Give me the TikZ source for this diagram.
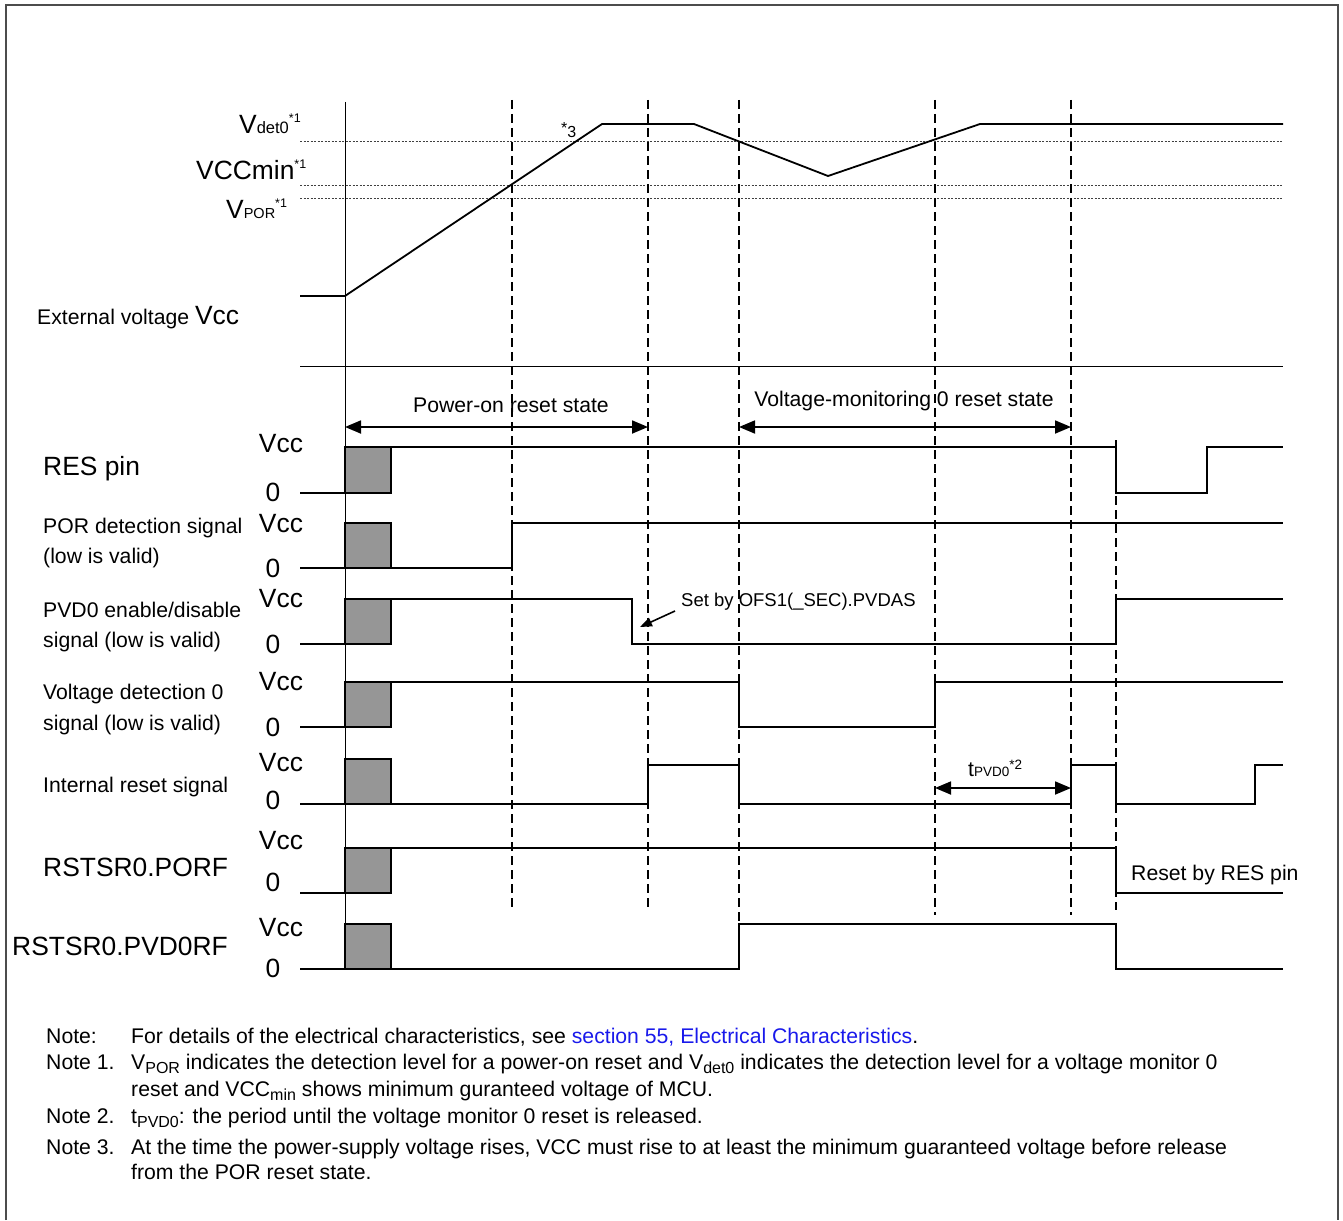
\documentclass[tikz,border=0pt]{standalone}
\usepackage{fontspec}
\setmainfont{Liberation Sans}
\usetikzlibrary{arrows.meta}
\definecolor{boxgray}{RGB}{150,150,150}
\definecolor{linkblue}{RGB}{25,25,235}
\newcommand{\lowsub}[1]{\raisebox{-4pt}{\fontsize{16}{17}\selectfont #1}}
\begin{document}
\begin{tikzpicture}[x=1pt,y=-1pt,
  sig/.style={line width=1.8pt, line join=miter},
  vdash/.style={line width=1.8pt, dash pattern=on 9pt off 5pt},
  dotl/.style={line width=0.9pt, dash pattern=on 2pt off 1.5pt, black!75},
  gbox/.style={fill=boxgray, draw=black, line width=1.6pt},
  lab/.style={inner sep=0pt, font=\fontsize{21.2}{26}\selectfont},
  big/.style={inner sep=0pt, font=\fontsize{26.4}{30}\selectfont},
  dbl/.style={line width=1.8pt, {Triangle[length=16pt,width=13pt]}-{Triangle[length=16pt,width=13pt]}},
]
\useasboundingbox (0,0) rectangle (1343,1220);
% frame
\draw[line width=1.2pt, black!70] (6,1220) -- (6,5) -- (1338,5) -- (1338,1220);

% dotted level lines
\draw[dotl] (300,141) -- (1283,141);
\draw[dotl] (300,185) -- (1283,185);
\draw[dotl] (300,198) -- (1283,198);

% time reference lines
\draw[line width=1pt] (345,102) -- (345,970);
\draw[vdash] (512,100) -- (512,910);
\draw[vdash] (648,100) -- (648,910);
\draw[vdash] (739,100) -- (739,925);
\draw[vdash] (935,100) -- (935,915);
\draw[vdash] (1071,100) -- (1071,915);
\draw[vdash] (1116,440) -- (1116,910);

% separator
\draw[line width=1pt] (300,366) -- (1283,366);

% external voltage waveform
\draw[sig] (300,296) -- (345,296) -- (602,124) -- (694,124) -- (828,176) -- (980,124) -- (1283,124);

% level labels
\node[anchor=base west, inner sep=0pt] (ldet) at (239,133)
  {{\fontsize{26.4}{30}\selectfont V}{\fontsize{16.5}{18}\selectfont det0}\raisebox{10pt}{\fontsize{12.5}{14}\selectfont *1}};
\node[anchor=base west, inner sep=0pt] (lmin) at (196,179)
  {{\fontsize{26.4}{30}\selectfont VCCmin}\raisebox{11pt}{\fontsize{12.5}{14}\selectfont *1}};
\node[anchor=base west, inner sep=0pt] (lpor) at (226,218)
  {{\fontsize{26.4}{30}\selectfont V}{\fontsize{14.5}{16}\selectfont POR}\raisebox{11pt}{\fontsize{12.5}{14}\selectfont *1}};
\node[anchor=base west, inner sep=0pt] (n3) at (561,138)
  {\fontsize{16}{18}\selectfont\raisebox{4pt}{*}3};
\node[lab, anchor=base west] (lext) at (37,324)
  {External voltage {\fontsize{26.4}{30}\selectfont Vcc}};

% state arrows
\coordinate (pa) at (345,427);
\coordinate (pb) at (648,427);
\coordinate (va) at (739,427);
\coordinate (vb) at (1071,427);
\draw[dbl] (pa) -- (pb);
\draw[dbl] (va) -- (vb);
\node[lab, anchor=base] (pors) at (511,412) {Power-on reset state};
\node[lab, anchor=base] (vms) at (904,406) {Voltage-monitoring 0 reset state};

% Row 1: RES pin
\draw[sig] (300,493) -- (345,493);
\filldraw[gbox] (345,447) rectangle (391,493);
\draw[sig] (391,447) -- (1116,447) -- (1116,493) -- (1207,493) -- (1207,447) -- (1283,447);
% Row 2: POR detection
\draw[sig] (300,568) -- (345,568);
\filldraw[gbox] (345,523) rectangle (391,568);
\draw[sig] (391,568) -- (512,568) -- (512,523) -- (1283,523);
% Row 3: PVD0 enable
\draw[sig] (300,644) -- (345,644);
\filldraw[gbox] (345,599) rectangle (391,644);
\draw[sig] (391,599) -- (632,599) -- (632,644) -- (1116,644) -- (1116,599) -- (1283,599);
% Row 4: voltage detection 0
\draw[sig] (300,727) -- (345,727);
\filldraw[gbox] (345,682) rectangle (391,727);
\draw[sig] (391,682) -- (739,682) -- (739,727) -- (935,727) -- (935,682) -- (1283,682);
% Row 5: internal reset
\draw[sig] (300,804) -- (345,804);
\filldraw[gbox] (345,759) rectangle (391,804);
\draw[sig] (391,804) -- (648,804) -- (648,765) -- (739,765) -- (739,804) -- (1071,804) -- (1071,765) -- (1116,765) -- (1116,804) -- (1255,804) -- (1255,765) -- (1283,765);
% Row 6: RSTSR0.PORF
\draw[sig] (300,893) -- (345,893);
\filldraw[gbox] (345,848) rectangle (391,893);
\draw[sig] (391,848) -- (1116,848) -- (1116,893) -- (1283,893);
% Row 7: RSTSR0.PVD0RF
\draw[sig] (300,969) -- (345,969);
\filldraw[gbox] (345,924) rectangle (391,969);
\draw[sig] (391,969) -- (739,969) -- (739,924) -- (1116,924) -- (1116,969) -- (1283,969);

% Vcc / 0 labels
\foreach \nm/\yv/\yz in {a/452.5/501.5, b/532.5/577.5, c/607.5/653.5, d/690.5/736.5, e/771.5/809.5, f/849.5/891.5, g/936.5/977.5}{
  \node[big, anchor=base] (vcc\nm) at (281,\yv) {Vcc};
  \node[big, anchor=base] (zero\nm) at (273,\yz) {0};
}

% row labels
\node[big, anchor=base west] (rres) at (43,475) {RES pin};
\node[lab, anchor=base west] (rpor1) at (43,533.5) {POR detection signal};
\node[lab, anchor=base west] (rpor2) at (43,563.5) {(low is valid)};
\node[lab, anchor=base west] (rpvd1) at (43,617.5) {PVD0 enable/disable};
\node[lab, anchor=base west] (rpvd2) at (43,647.5) {signal (low is valid)};
\node[lab, anchor=base west] (rvd1) at (43,699.5) {Voltage detection 0};
\node[lab, anchor=base west] (rvd2) at (43,730.5) {signal (low is valid)};
\node[lab, anchor=base west] (rint) at (43,792.5) {Internal reset signal};
\node[big, anchor=base west] (rporf) at (43,876.5) {RSTSR0.PORF};
\node[big, anchor=base west] (rpvdf) at (12,955.5) {RSTSR0.PVD0RF};

% annotations
\node[anchor=base west, inner sep=0pt, font=\fontsize{18.5}{22}\selectfont] (setby) at (681,606.5) {Set by OFS1(\_SEC).PVDAS};
\coordinate (sa) at (675,611);
\coordinate (sb) at (640,627);
\draw[line width=1.6pt, -{Triangle[length=12pt,width=9pt]}] (sa) -- (sb);

\coordinate (ta) at (935,788);
\coordinate (tb) at (1071,788);
\draw[dbl] (ta) -- (tb);
\node[anchor=base west, inner sep=0pt] (tpvd) at (968,776)
  {{\fontsize{21.2}{24}\selectfont t}{\fontsize{13.5}{15}\selectfont PVD0}\raisebox{7pt}{\fontsize{13.5}{15}\selectfont *2}};

\node[lab, anchor=base west] (rstres) at (1131,880) {Reset by RES pin};

% notes
\node[lab, anchor=base west] (nt0) at (46,1043.5) {Note:};
\node[lab, anchor=base west] (nt0t) at (131,1043.5) {For details of the electrical characteristics, see \textcolor{linkblue}{section 55, Electrical Characteristics}.};
\node[lab, anchor=base west] (nt1) at (46,1069.5) {Note 1.};
\node[lab, anchor=base west] (nt1a) at (131,1069.5) {V\lowsub{POR} indicates the detection level for a power-on reset and V\lowsub{det0} indicates the detection level for a voltage monitor 0};
\node[lab, anchor=base west] (nt1b) at (131,1096.5) {reset and VCC\lowsub{min} shows minimum guranteed voltage of MCU.};
\node[lab, anchor=base west] (nt2) at (46,1123.5) {Note 2.};
\node[lab, anchor=base west] (nt2a) at (131,1123.5) {t\lowsub{PVD0}: the period until the voltage monitor 0 reset is released.};
\node[lab, anchor=base west] (nt3) at (46,1154.5) {Note 3.};
\node[lab, anchor=base west] (nt3a) at (131,1154.5) {At the time the power-supply voltage rises, VCC must rise to at least the minimum guaranteed voltage before release};
\node[lab, anchor=base west] (nt3b) at (131,1179.5) {from the POR reset state.};
\end{tikzpicture}
\end{document}
